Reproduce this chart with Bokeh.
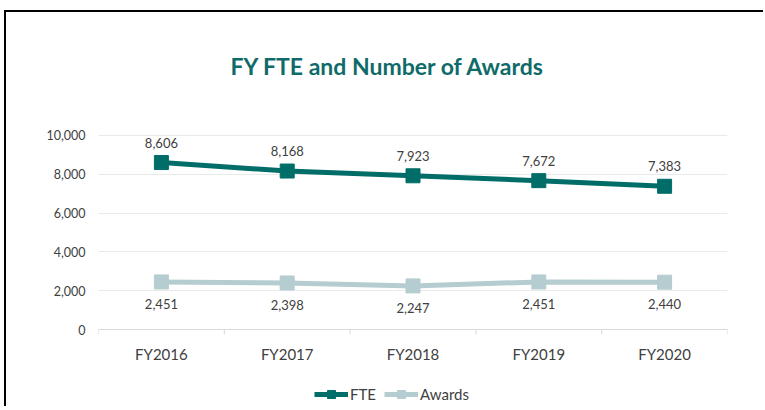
import math
from bokeh.plotting import figure
from bokeh.models import (FixedTicker, NumeralTickFormatter, Range1d, Legend, ColumnDataSource, Span, Label)
from bokeh.core.properties import value
from bokeh.embed import file_html
from bokeh.resources import INLINE

categories = ["FY2016", "FY2017", "FY2018", "FY2019", "FY2020"]
fte = [8606, 8168, 7923, 7672, 7383]
awards = [2451, 2398, 2247, 2451, 2440]
y_ticks = [0, 2000, 4000, 6000, 8000, 10000]
title_text = "FY FTE and Number of Awards"

FTE_COLOR = "#006d68"
AW_COLOR = "#b5ccd0"
FONT = "Lato"
TXT = "#404040"

n = len(categories)
xs = list(range(n))
src = ColumnDataSource(dict(
    x=xs, fte=fte, awards=awards, cat=categories, zero=[0] * n,
    fte_lbl=[f"{v:,}" for v in fte],
    aw_lbl=[f"{v:,}" for v in awards],
))
bounds = ColumnDataSource(dict(x=[i - 0.5 for i in range(n + 1)], y=[0] * (n + 1)))

# frame spans whole canvas height; 10,000 units = 194 px
p = figure(width=759, height=396, output_backend="svg", toolbar_location=None,
           x_axis_location=None,
           x_range=Range1d(-0.5, n - 0.5),
           y_range=Range1d(-4072, 16340),
           min_border_left=92, min_border_right=38, min_border_top=0, min_border_bottom=0)
p.styles = {"margin-left": "4px", "margin-top": "10px",
            "border-top": "2px solid black", "border-left": "2px solid black"}

p.outline_line_color = None
p.xgrid.grid_line_color = None
p.ygrid.grid_line_color = "#e9e9e9"
p.ygrid.ticker = FixedTicker(ticks=y_ticks)

ya = p.yaxis[0]
ya.ticker = FixedTicker(ticks=y_ticks)
ya.formatter = NumeralTickFormatter(format="0,0")
ya.axis_line_color = None
ya.major_tick_line_color = None
ya.minor_tick_line_color = None
ya.major_tick_out = 0
ya.major_label_standoff = 13
ya.major_label_text_font = FONT
ya.major_label_text_font_size = "12.5px"
ya.major_label_text_color = TXT

# title
p.add_layout(Label(x=(n - 1) / 2, y=max(y_ticks), x_offset=-25, y_offset=69, text=title_text,
                   text_align="center", text_baseline="middle", text_font=FONT,
                   text_font_size="23px", text_font_style="bold", text_color="#0f6b69"))

# category axis (line at zero, boundary ticks, labels)
p.add_layout(Span(location=0, dimension="width", line_color="#d9d9d9", line_width=1))
p.ray("x", "y", source=bounds, length=5, length_units="screen", angle=-math.pi / 2,
      line_color="#d9d9d9", line_width=1)
p.text("x", "zero", text="cat", source=src, text_align="center", text_baseline="middle",
       y_offset=24, text_font=value(FONT), text_font_size="15px", text_color=TXT)

l1 = p.line("x", "fte", source=src, line_color=FTE_COLOR, line_width=5)
m1 = p.scatter("x", "fte", source=src, marker="square", size=14, fill_color=FTE_COLOR, line_color=FTE_COLOR)
l2 = p.line("x", "awards", source=src, line_color=AW_COLOR, line_width=5)
m2 = p.scatter("x", "awards", source=src, marker="square", size=14, fill_color=AW_COLOR, line_color=AW_COLOR)

p.text("x", "fte", text="fte_lbl", source=src, text_align="center", text_baseline="middle",
       y_offset=-20, text_font=value(FONT), text_font_size="13px", text_color=TXT)
p.text("x", "awards", text="aw_lbl", source=src, text_align="center", text_baseline="middle",
       y_offset=22, text_font=value(FONT), text_font_size="13px", text_color=TXT)

legend = Legend(items=[("FTE", [l1, m1]), ("Awards", [l2, m2])], orientation="horizontal",
                location=(216, 4), border_line_color=None, background_fill_alpha=0,
                label_text_font=FONT,
                label_text_font_size="15px", label_text_color=TXT,
                glyph_width=34, spacing=8, label_standoff=2, padding=4, margin=0)
p.add_layout(legend, "center")

open("out.html", "w").write(file_html(p, INLINE))
